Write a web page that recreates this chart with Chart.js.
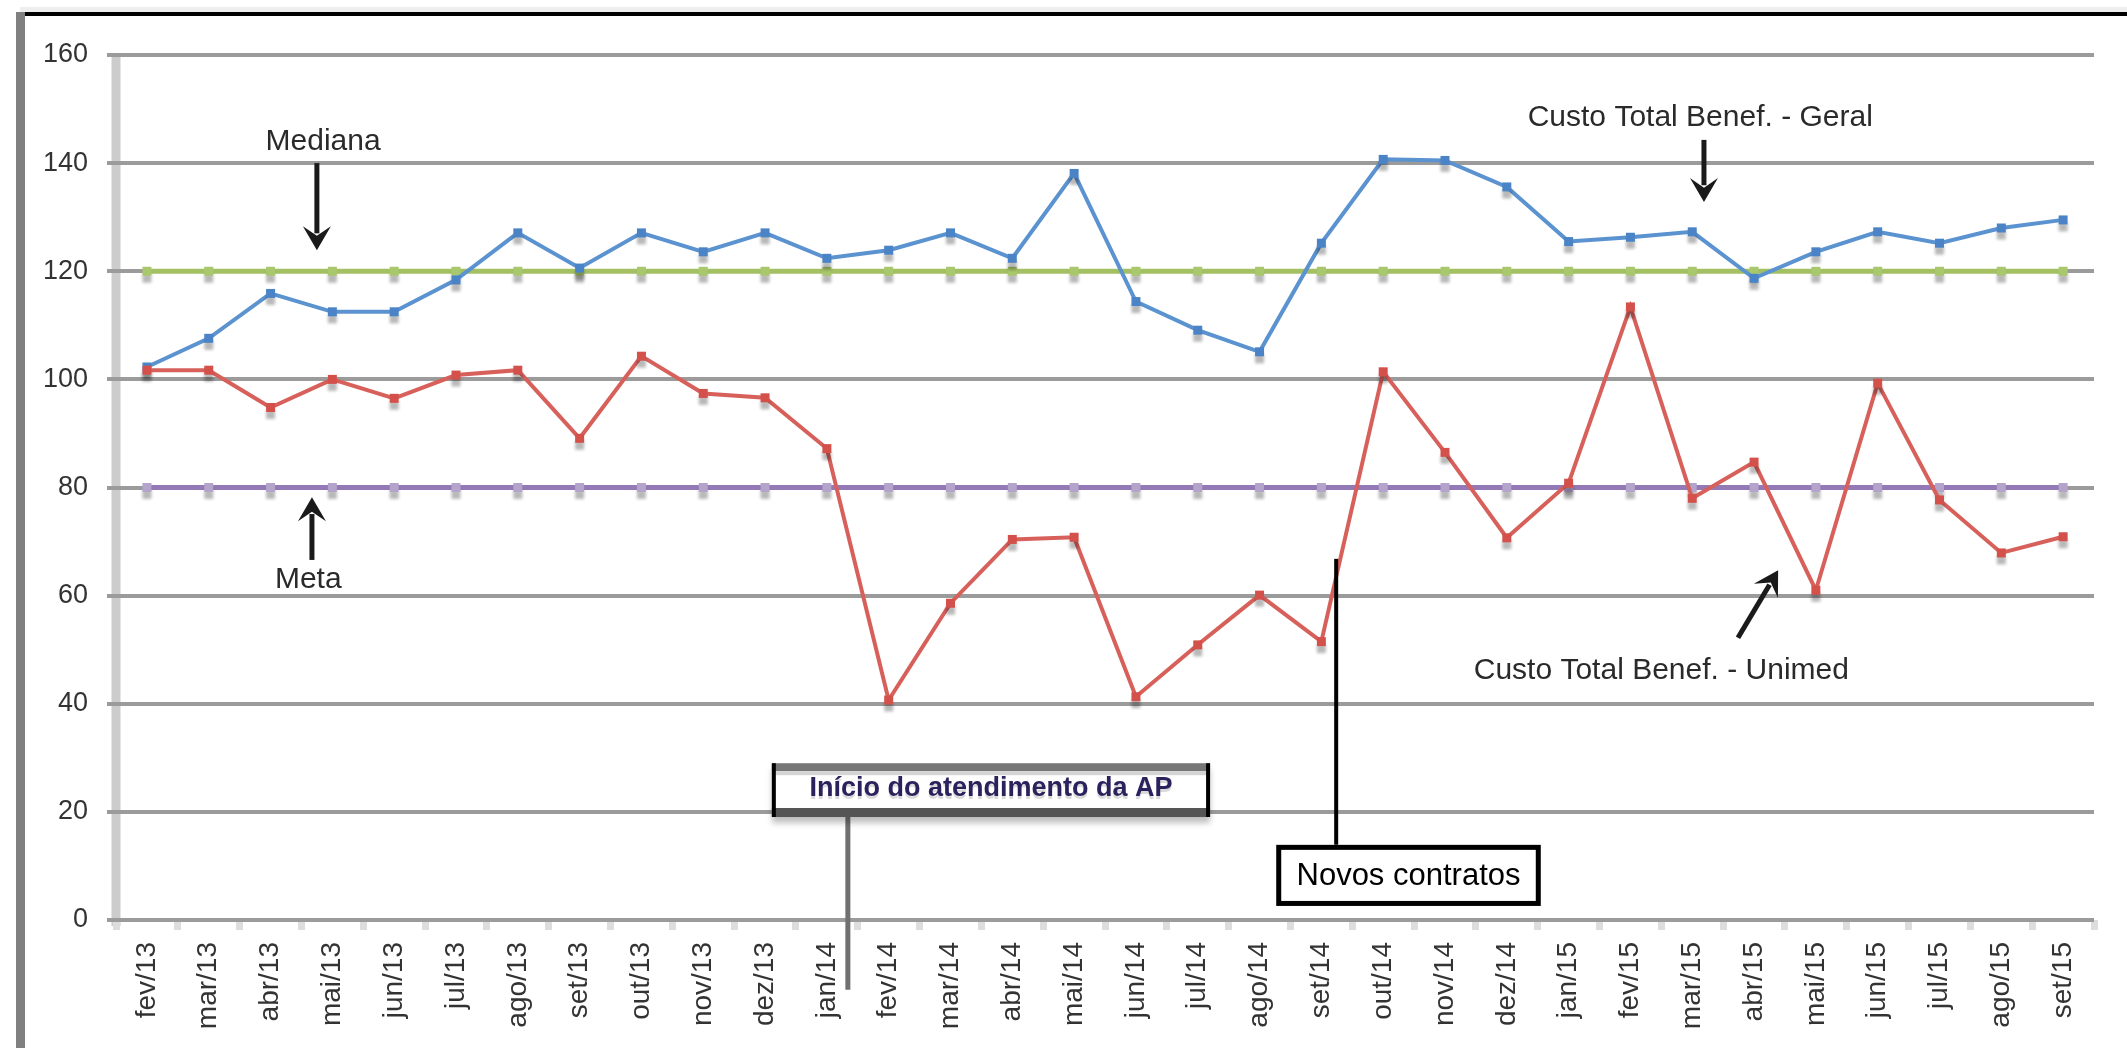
<!DOCTYPE html>
<html><head><meta charset="utf-8">
<script src="https://cdn.jsdelivr.net/npm/chart.js@4.4.0/dist/chart.umd.min.js"></script>
<style>html,body{margin:0;padding:0;background:#fff;overflow:hidden}#wrap{position:absolute;left:0;top:0;width:2127px;height:1048px}</style>
</head><body><div id="wrap"><canvas id="c" width="2127" height="1048"></canvas></div>
<script>
// ---------- DATA ----------
const categories = ['fev/13','mar/13','abr/13','mai/13','jun/13','jul/13','ago/13','set/13','out/13','nov/13','dez/13',
  'jan/14','fev/14','mar/14','abr/14','mai/14','jun/14','jul/14','ago/14','set/14','out/14','nov/14','dez/14',
  'jan/15','fev/15','mar/15','abr/15','mai/15','jun/15','jul/15','ago/15','set/15'];
const custoGeral = [102.3,107.6,115.9,112.5,112.5,118.4,127.1,120.6,127.1,123.6,127.1,
  122.4,123.9,127.1,122.4,138.1,114.4,109.1,105.1,125.2,140.7,140.5,135.6,
  125.5,126.3,127.3,118.7,123.6,127.3,125.2,128.0,129.5];
const custoUnimed = [101.7,101.7,94.8,100.0,96.5,100.8,101.7,89.1,104.3,97.4,96.6,
  87.2,40.7,58.6,70.4,70.8,41.3,50.9,60.1,51.5,101.4,86.5,70.7,
  80.8,113.4,78.0,84.7,61.0,99.3,77.7,67.9,70.9];
const mediana = [120,120,120,120,120,120,120,120,120,120,120,120,120,120,120,120,
  120,120,120,120,120,120,120,120,120,120,120,120,120,120,120,120];
const meta = [80,80,80,80,80,80,80,80,80,80,80,80,80,80,80,80,
  80,80,80,80,80,80,80,80,80,80,80,80,80,80,80,80];
const yTicks = [0,20,40,60,80,100,120,140,160];

// Annotation anchors in (category index, value) coordinates
const labelMediana = {text:'Mediana', i:2.85, v:143.9};
const arrowMediana = {i1:2.75, v1:140.0, i2:2.75, v2:123.9};
const labelMeta = {text:'Meta', i:2.61, v:62.9};
const arrowMeta = {i1:2.67, v1:66.6, i2:2.67, v2:78.2};
const labelGeral = {text:'Custo Total Benef. - Geral', i:25.13, v:148.4};
const arrowGeral = {i1:25.19, v1:144.3, i2:25.19, v2:132.8};
const labelUnimed = {text:'Custo Total Benef. - Unimed', i:24.5, v:46.1};
const arrowUnimed = {i1:25.74, v1:52.2, i2:26.39, v2:64.7};
const boxInicio = {text:'Início do atendimento da AP', i1:10.11, i2:17.2, v1:29.0, v2:19.05, lineI:11.34, lineV:-12.9};
const boxNovos = {text:'Novos contratos', i1:18.27, i2:22.55, v1:13.9, v2:2.6, lineI:19.24, lineV:66.8};

// ---------- STYLE ----------
function marker(fill){
  const s=9, pad=14, c=document.createElement('canvas');
  c.width=s+2*pad; c.height=s+2*pad;
  const g=c.getContext('2d');
  g.filter='blur(1.5px)'; g.fillStyle='rgba(0,0,0,0.28)'; g.fillRect(pad,pad+7,s,s);
  g.filter='none'; g.fillStyle=fill; g.fillRect(pad,pad,s,s);
  return c;
}
const FONT='"Liberation Sans", Arial, sans-serif';

const framePlugin = {
  id:'frame',
  beforeDraw(chart){
    const ctx=chart.ctx, a=chart.chartArea;
    ctx.save();
    ctx.fillStyle='#fff'; ctx.fillRect(0,0,chart.width,chart.height);
    ctx.fillStyle='#eeeeee'; ctx.fillRect(20,7,chart.width-20,5);
    ctx.fillStyle='#000'; ctx.fillRect(20,12,chart.width-20,4);
    ctx.fillStyle='#808080'; ctx.fillRect(16,12,9,chart.height-12);
    ctx.fillStyle='#cccccc'; ctx.fillRect(a.left-4.5,a.top,9,a.bottom-a.top+6);
    ctx.restore();
  }
};

function arrow(ctx,x1,y1,x2,y2,col){
  const dx=x2-x1, dy=y2-y1, L=Math.hypot(dx,dy), ux=dx/L, uy=dy/L, px=-uy, py=ux;
  const hl=24, hw=14;
  ctx.strokeStyle=col; ctx.fillStyle=col; ctx.lineWidth=5;
  ctx.beginPath(); ctx.moveTo(x1,y1); ctx.lineTo(x2-ux*hl*0.7,y2-uy*hl*0.7); ctx.stroke();
  ctx.beginPath();
  ctx.moveTo(x2,y2);
  ctx.lineTo(x2-ux*hl+px*hw, y2-uy*hl+py*hw);
  ctx.lineTo(x2-ux*hl*0.6, y2-uy*hl*0.6);
  ctx.lineTo(x2-ux*hl-px*hw, y2-uy*hl-py*hw);
  ctx.closePath(); ctx.fill();
}

const annoPlugin = {
  id:'anno',
  afterDraw(chart){
    const ctx=chart.ctx, xs=chart.scales.x, ys=chart.scales.y;
    const X=i=>xs.left+(xs.right-xs.left)*(i+0.5)/categories.length;
    const Y=v=>ys.getPixelForValue(v);
    ctx.save();
    ctx.textAlign='center'; ctx.textBaseline='middle';
    // text labels
    ctx.fillStyle='#2a2a2a'; ctx.font='30px '+FONT;
    [labelMediana,labelMeta,labelGeral,labelUnimed].forEach(l=>ctx.fillText(l.text,X(l.i),Y(l.v)));
    // arrows
    [arrowMediana,arrowMeta,arrowGeral,arrowUnimed].forEach(a=>arrow(ctx,X(a.i1),Y(a.v1),X(a.i2),Y(a.v2),'#1a1a1a'));
    // Inicio box
    {
      const b=boxInicio, x0=X(b.i1), x1=X(b.i2), y0=Y(b.v1), y1=Y(b.v2), w=x1-x0, h=y1-y0;
      ctx.fillStyle='#707070'; ctx.fillRect(X(b.lineI)-2.5,y1,5,Y(b.lineV)-y1);
      ctx.save(); ctx.shadowColor='rgba(0,0,0,0.25)'; ctx.shadowOffsetY=6; ctx.shadowBlur=6;
      ctx.fillStyle='#fff'; ctx.fillRect(x0,y0,w,h); ctx.restore();
      ctx.fillStyle='#777'; ctx.fillRect(x0,y0,w,8);
      ctx.fillStyle='#d4d4d4'; ctx.fillRect(x0,y0+8,w,4);
      ctx.fillStyle='#555'; ctx.fillRect(x0,y1-9,w,9);
      ctx.fillStyle='#000'; ctx.fillRect(x0,y0,4,h); ctx.fillRect(x1-4,y0,4,h);
      ctx.font='bold 27px '+FONT;
      ctx.fillStyle='rgba(0,0,0,0.15)'; ctx.fillText(b.text,(x0+x1)/2,(y0+y1)/2+1);
      ctx.fillStyle='#2b215c'; ctx.fillText(b.text,(x0+x1)/2,(y0+y1)/2-2);
    }
    // Novos box
    {
      const b=boxNovos, x0=X(b.i1), x1=X(b.i2), y0=Y(b.v1), y1=Y(b.v2);
      ctx.fillStyle='#000'; ctx.fillRect(X(b.lineI)-2,Y(b.lineV),4,y0-Y(b.lineV));
      ctx.fillStyle='#fff'; ctx.fillRect(x0,y0,x1-x0,y1-y0);
      ctx.strokeStyle='#000'; ctx.lineWidth=5; ctx.strokeRect(x0+2.5,y0+2.5,x1-x0-5,y1-y0-5);
      ctx.fillStyle='#000'; ctx.font='31px '+FONT;
      ctx.fillText(b.text,(x0+x1)/2,(y0+y1)/2+1);
    }
    ctx.restore();
  }
};

const ds=(label,data,color,mk,w,order)=>({label,data,borderColor:color,backgroundColor:color,borderWidth:w,
  pointStyle:marker(mk),pointRadius:6,tension:0,order,fill:false});

new Chart(document.getElementById('c'),{
  type:'line',
  data:{labels:categories,datasets:[
    ds('Custo Total Benef. - Unimed',custoUnimed,'#d7605b','#d4504b',4,0),
    ds('Custo Total Benef. - Geral',custoGeral,'#5b92d0','#4a84c6',4,1),
    ds('Mediana',mediana,'#a3c163','#a9c76c',5,2),
    ds('Meta',meta,'#9479b7','#b4a3cb',5,3)
  ]},
  options:{
    responsive:false, animation:false, devicePixelRatio:1,
    layout:{padding:{left:0,right:33,top:55,bottom:0}},
    plugins:{legend:{display:false},tooltip:{enabled:false}},
    scales:{
      x:{type:'category',offset:true,
        grid:{offset:true,drawOnChartArea:false,drawTicks:true,tickLength:10,tickColor:'#dddddd',tickWidth:7,color:'#dddddd',lineWidth:7},
        border:{display:false},
        ticks:{autoSkip:false,minRotation:90,maxRotation:90,padding:12,color:'#333',font:{family:FONT,size:28}},
        afterFit(s){s.height=128;}
      },
      y:{min:0,max:160,
        afterBuildTicks(s){s.ticks=yTicks.map(v=>({value:v}));},
        grid:{color:'#9b9b9b',lineWidth:4,drawTicks:true,tickLength:9,tickColor:'#9b9b9b'},
        border:{display:false},
        ticks:{padding:19,color:'#333',font:{family:FONT,size:27}},
        afterFit(s){s.width=116;}
      }
    }
  },
  plugins:[framePlugin,annoPlugin]
});
</script></body></html>
